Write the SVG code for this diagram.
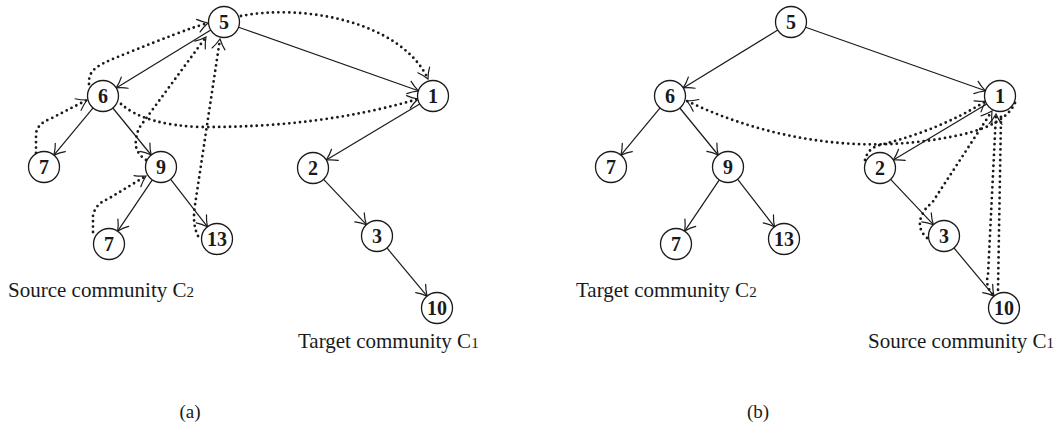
<svg xmlns="http://www.w3.org/2000/svg" width="1060" height="433" viewBox="0 0 1060 433">
<style>
.node circle{fill:#fff;stroke:#1a1a1a;stroke-width:1.3}
.node text{font-family:"Liberation Serif","Times New Roman",serif;font-weight:bold;font-size:20px;fill:#1a1a1a;text-anchor:middle}
.solid{fill:none;stroke:#1a1a1a;stroke-width:1.2;marker-end:url(#arr)}
.dot{fill:none;stroke:#1a1a1a;stroke-width:2.8;stroke-linecap:round;stroke-dasharray:0 5.4}
.dota{marker-end:url(#arr)}
.lbl{font-family:"Liberation Serif","Times New Roman",serif;font-size:21px;fill:#1a1a1a}
.sub{font-size:15px}
.cap{font-family:"Liberation Serif","Times New Roman",serif;font-size:19px;fill:#1a1a1a;text-anchor:middle}
</style>
<defs>
<marker id="arr" markerUnits="userSpaceOnUse" markerWidth="24" markerHeight="24" viewBox="-12 -12 24 24" refX="0" refY="0" orient="auto" overflow="visible">
<path d="M -10,-6.5 C -6,-3 -2,-1 0,0 C -2,1 -6,3 -10,6.5" fill="none" stroke="#1a1a1a" stroke-width="1.2" stroke-linecap="round"/>
</marker>
</defs>
<rect width="1060" height="433" fill="#fff"/>

<!-- Panel (a) connectors -->
<g id="connectors-a">
<path class="solid" d="M210.8,30.1 L116.2,87.9"/>
<path class="solid" d="M238.6,27.2 L418.4,90.8"/>
<path class="solid" d="M93.1,107.9 L53.9,155.1"/>
<path class="solid" d="M112.8,108 L151.2,155"/>
<path class="solid" d="M152.3,179.9 L117.7,231.1"/>
<path class="solid" d="M170.5,179.2 L207.5,226.8"/>
<path class="solid" d="M419.7,104 L326.3,160"/>
<path class="solid" d="M323.6,179.3 L366.4,224.7"/>
<path class="solid" d="M386.9,247.9 L427.1,296.1"/>
<path class="dot dota" d="M89,84 C88,68 100,64 130,52 S190,28 208,23"/>
<path class="dot dota" d="M36,153 L36,134 Q37,124 50,119 L87,100"/>
<path class="dot dota" d="M146,160 Q134,152 136,140 Q137,130 142,124 L206,37"/>
<path class="dot dota" d="M198,236 Q192,224 195,205 L220,39"/>
<path class="dot dota" d="M93,232 L93,216 Q95,204 108,199 L146,176"/>
<path class="dot dota" d="M241,16 C300,4 400,20 428,79"/>
<path class="dot dota" d="M121,104 Q145,125 200,127 Q320,128 418,99"/>
</g>

<!-- Panel (a) nodes -->
<g id="a-n5" class="node"><circle cx="224" cy="22" r="15.5"/><text x="224" y="29">5</text></g>
<g id="a-n6" class="node"><circle cx="103" cy="96" r="15.5"/><text x="103" y="103">6</text></g>
<g id="a-n1" class="node"><circle cx="433" cy="96" r="15.5"/><text x="433" y="103">1</text></g>
<g id="a-n7" class="node"><circle cx="44" cy="167" r="15.5"/><text x="44" y="174">7</text></g>
<g id="a-n9" class="node"><circle cx="161" cy="167" r="15.5"/><text x="161" y="174">9</text></g>
<g id="a-n2" class="node"><circle cx="313" cy="168" r="15.5"/><text x="313" y="175">2</text></g>
<g id="a-n7b" class="node"><circle cx="109" cy="244" r="15.5"/><text x="109" y="251">7</text></g>
<g id="a-n13" class="node"><circle cx="217" cy="239" r="15.5"/><text x="217" y="246">13</text></g>
<g id="a-n3" class="node"><circle cx="377" cy="236" r="15.5"/><text x="377" y="243">3</text></g>
<g id="a-n10" class="node"><circle cx="437" cy="308" r="15.5"/><text x="437" y="315">10</text></g>

<text class="lbl" x="8" y="297">Source community C<tspan class="sub">2</tspan></text>
<text class="lbl" x="298" y="348">Target community C<tspan class="sub">1</tspan></text>
<text class="cap" x="190" y="418">(a)</text>

<!-- Panel (b) -->
<g transform="translate(567,0)">
<g id="connectors-b">
<path class="solid" d="M210.8,30.1 L116.2,87.9"/>
<path class="solid" d="M238.6,27.2 L418.4,90.8"/>
<path class="solid" d="M93.1,107.9 L53.9,155.1"/>
<path class="solid" d="M112.8,108 L151.2,155"/>
<path class="solid" d="M152.3,179.9 L117.7,231.1"/>
<path class="solid" d="M170.5,179.2 L207.5,226.8"/>
<path class="solid" d="M419.7,104 L326.3,160"/>
<path class="solid" d="M323.6,179.3 L366.4,224.7"/>
<path class="solid" d="M386.9,247.9 L427.1,296.1"/>
<path class="dot dota" d="M448,103 Q438,125 393,135 Q333,148 273,143 Q193,136 120,101"/>
<path class="dot dota" d="M298,160 Q301,148 313,145 Q373,130 419,101"/>
<path class="dot dota" d="M360,238 Q349,228 355,215 Q358,208 365,203 L425,111"/>
<path class="dot dota" d="M425,294 Q418,285 421,275 L429,114"/>
<path class="dot" d="M434,117 L431,290"/>
</g>
<g id="b-n5" class="node"><circle cx="224" cy="22" r="15.5"/><text x="224" y="29">5</text></g>
<g id="b-n6" class="node"><circle cx="103" cy="96" r="15.5"/><text x="103" y="103">6</text></g>
<g id="b-n1" class="node"><circle cx="433" cy="96" r="15.5"/><text x="433" y="103">1</text></g>
<g id="b-n7" class="node"><circle cx="44" cy="167" r="15.5"/><text x="44" y="174">7</text></g>
<g id="b-n9" class="node"><circle cx="161" cy="167" r="15.5"/><text x="161" y="174">9</text></g>
<g id="b-n2" class="node"><circle cx="313" cy="168" r="15.5"/><text x="313" y="175">2</text></g>
<g id="b-n7b" class="node"><circle cx="109" cy="244" r="15.5"/><text x="109" y="251">7</text></g>
<g id="b-n13" class="node"><circle cx="217" cy="239" r="15.5"/><text x="217" y="246">13</text></g>
<g id="b-n3" class="node"><circle cx="377" cy="236" r="15.5"/><text x="377" y="243">3</text></g>
<g id="b-n10" class="node"><circle cx="437" cy="308" r="15.5"/><text x="437" y="315">10</text></g>
</g>

<text class="lbl" x="576" y="297">Target community C<tspan class="sub">2</tspan></text>
<text class="lbl" x="868" y="348">Source community C<tspan class="sub">1</tspan></text>
<text class="cap" x="758" y="418">(b)</text>
</svg>
